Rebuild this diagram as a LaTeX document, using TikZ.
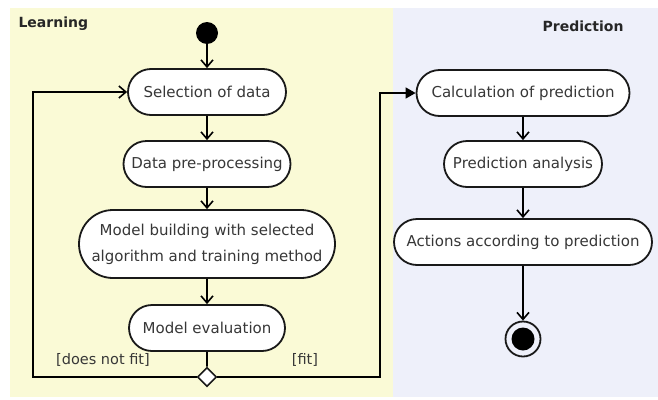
\documentclass[tikz,border=0pt]{standalone}
\usepackage{fontspec}
\setmainfont{DejaVu Sans}
\usetikzlibrary{arrows.meta,shapes.geometric,shapes.misc}
\definecolor{learnbg}{RGB}{250,250,214}
\definecolor{predbg}{RGB}{238,240,250}
\definecolor{txtgray}{RGB}{55,55,55}
\tikzset{
    activity/.style={draw=black!90, line width=1.8pt, fill=white, rounded rectangle,
        minimum height=46pt, inner sep=2pt, text=txtgray, align=center,
        font=\fontsize{15}{26}\selectfont},
    flow/.style={line width=1.6pt, -{Straight Barb[length=7pt,width=12pt]}},
    guard/.style={text=txtgray, font=\fontsize{14.5}{17}\selectfont},
    lane/.style={font=\bfseries\fontsize{14}{17}\selectfont, text=black!85},
}
\begin{document}
\begin{tikzpicture}[x=1pt,y=-1pt]
    \useasboundingbox (0,0) rectangle (658,399);
    \fill[learnbg] (10,8) rectangle (393,397); %Learning lane
    \fill[predbg] (393,8) rectangle (658,397); %Prediction lane
    \node[lane, anchor=west] (learning) at (15,24) {Learning};
    \node[lane, anchor=east] (prediction) at (627,26) {Prediction};

    % learning
    \node[circle, fill=black, minimum size=22pt, inner sep=0pt] (start) at (207,33) {};
    \node[activity, minimum width=162pt] (sel) at (207,92) {Selection of data};
    \node[activity, minimum width=171pt] (pre) at (207,164) {Data pre-processing};
    \node[activity, minimum width=260pt, minimum height=68pt] (model) at (207,244)
        {Model building with selected\\algorithm and training method};
    \node[activity, minimum width=160pt] (eval) at (207,328) {Model evaluation};
    \node[diamond, draw=black!90, line width=1.6pt, fill=white, minimum size=19pt,
        inner sep=0pt] (dec) at (207,377) {};
    \node[guard] (nofit) at (103,360) {[does not fit]};
    \node[guard] (fit) at (305,360) {[fit]};

    % prediction
    \node[activity, minimum width=217pt] (calc) at (523,93) {Calculation of prediction};
    \node[activity, minimum width=162pt] (anal) at (523,164) {Prediction analysis};
    \node[activity, minimum width=262pt] (act) at (523,242) {Actions according to prediction};
    \node[circle, draw=black!90, line width=1.8pt, minimum size=35pt, inner sep=0pt,
        path picture={\fill[black] (path picture bounding box.center) circle (11.5pt);}]
        (stop) at (523,339) {};

    \coordinate (back) at (33,377);
    \coordinate (forth) at (380,377);

    \draw[flow] (start) -- (sel);
    \draw[flow] (sel) -- (pre);
    \draw[flow] (pre) -- (model);
    \draw[flow] (model) -- (eval);
    \draw[line width=1.6pt] (eval) -- (dec);
    \draw[flow] (dec.west) -- (back) |- (sel.west);
    \draw[line width=1.6pt, -{Triangle[length=10pt,width=11pt]}] (dec.east) -- (forth) |- (calc.west);
    \draw[flow] (calc) -- (anal);
    \draw[flow] (anal) -- (act);
    \draw[flow] (act) -- (stop);
\end{tikzpicture}
\end{document}
